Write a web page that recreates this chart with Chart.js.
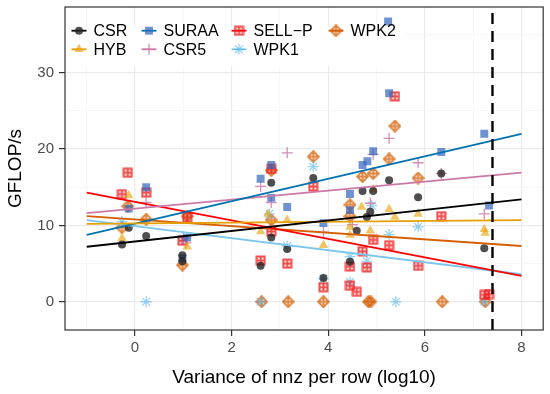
<!DOCTYPE html>
<html>
<head>
<meta charset="utf-8">
<script src="https://cdn.jsdelivr.net/npm/chart.js@4.4.1/dist/chart.umd.min.js"></script>
<style>
  html, body { margin: 0; padding: 0; background: #fff; }
</style>
</head>
<body>
<canvas id="chart" width="550" height="394"></canvas>
<script>
// x = variance of nnz per row (log10), y = GFLOP/s
const csrX = [-0.27, -0.13, 0.23, 0.98, 0.98, 2.6, 2.82, 2.82, 3.15, 3.69, 3.9, 4.45, 4.59, 4.71, 4.8, 4.87, 4.93, 5.26, 5.86, 6.34, 7.23];
const csrY = [7.5, 9.7, 8.6, 6.1, 5.3, 4.7, 15.6, 8.4, 6.9, 16.2, 3.1, 5.25, 9.3, 14.5, 11.1, 11.8, 14.5, 15.9, 13.7, 16.8, 7.0];

const hybX = [-0.27, -0.13, 1.08, 2.6, 2.75, 3.15, 3.9, 4.45, 4.45, 4.69, 4.87, 4.93, 5.26, 5.38, 5.86, 7.23, 7.25];
const hybY = [8.3, 13.9, 7.2, 9.2, 11.5, 10.7, 7.4, 9.8, 8.75, 12.4, 9.3, 14.7, 12.1, 11.1, 11.5, 9.5, 9.0];

const suraaX = [-0.13, 0.23, 0.98, 1.08, 2.6, 2.82, 2.82, 3.15, 3.9, 4.45, 4.45, 4.71, 4.81, 4.93, 5.24, 5.26, 6.34, 7.23, 7.33];
const suraaY = [12.2, 15.0, 5.7, 8.4, 16.1, 17.9, 13.6, 12.4, 10.3, 14.1, 12.0, 17.9, 18.4, 19.7, 36.7, 27.3, 19.6, 22.0, 12.6];

const csr5X = [0.23, 1.05, 2.6, 2.82, 3.15, 3.9, 4.5, 4.87, 4.93, 5.26, 5.86, 6.34, 7.23];
const csr5Y = [13.0, 7.7, 15.1, 13.0, 19.5, 9.1, 10.1, 12.9, 19.3, 21.4, 18.2, 16.8, 11.5];

const sellpX = [-0.15, -0.27, 0.23, 0.98, 1.08, 2.6, 2.82, 2.82, 3.15, 3.69, 3.9, 4.45, 4.45, 4.59, 4.71, 4.8, 4.93, 5.26, 5.38, 5.86, 6.34, 7.23, 7.33];
const sellpY = [16.9, 14.1, 14.3, 8.0, 11.0, 5.4, 17.4, 9.2, 5.0, 15.1, 1.9, 4.6, 2.1, 1.3, 6.6, 4.5, 8.1, 7.4, 26.9, 4.7, 11.2, 0.9, 1.0];

const wpk1X = [-0.27, 0.23, 1.0, 2.6, 2.78, 3.15, 3.69, 3.9, 4.45, 4.45, 4.8, 4.9, 5.26, 5.4, 5.86, 7.23];
const wpk1Y = [10.5, 0.0, 8.3, 0.0, 11.5, 7.3, 17.7, 3.0, 5.9, 2.6, 5.3, 12.6, 8.8, 0.0, 9.8, 0.0];

const wpk2X = [-0.15, -0.27, 0.23, 1.08, 0.98, 2.62, 2.82, 2.82, 3.17, 3.69, 3.9, 4.45, 4.45, 4.71, 4.83, 4.88, 4.93, 5.26, 5.38, 5.86, 6.36, 7.25];
const wpk2Y = [12.5, 9.7, 10.8, 11.2, 4.8, 0, 17.2, 10.7, 0, 19.0, 0, 12.7, 11.2, 16.4, 0, 0, 16.8, 18.7, 23.0, 16.2, 0, 0];

// fitted trend lines, value at each end of fitX
const fitX = [-1, 8];
const fitCSR = [7.2, 13.4];
const fitHYB = [10.2, 10.7];
const fitSURAA = [8.75, 22.0];
const fitCSR5 = [11.6, 16.9];
const fitSELLP = [14.3, 3.4];
const fitWPK1 = [10.7, 3.6];
const fitWPK2 = [11.2, 7.3];

const thresholdX = 7.4;
const xRange = [-1.45, 8.45];
const yRange = [-3.7, 38.6];

// grid positions; labelled ones are the majors
const xGrid = [-1, 0, 1, 2, 3, 4, 5, 6, 7, 8];
const xLabels = [0, 2, 4, 6, 8];
const yGrid = [0, 5, 10, 15, 20, 25, 30, 35];
const yLabels = [0, 10, 20, 30];

// ggplot-like marker shapes that Chart.js doesn't have
const withAlpha = (draw, size, alpha) => {
    const a = document.createElement('canvas');
    a.width = size; a.height = size;
    draw(a.getContext('2d'));
    const b = document.createElement('canvas');
    b.width = size; b.height = size;
    const g = b.getContext('2d');
    g.globalAlpha = alpha;
    g.drawImage(a, 0, 0);
    return b;
};

const squarePlus = withAlpha(g => {
    g.strokeStyle = '#ee1c1c';
    g.lineWidth = 2;
    g.strokeRect(1.5, 1.5, 8, 8);
    g.beginPath();
    g.moveTo(5.5, 1.5); g.lineTo(5.5, 9.5);
    g.moveTo(1.5, 5.5); g.lineTo(9.5, 5.5);
    g.stroke();
}, 11, 0.8);

const diamondPlus = withAlpha(g => {
    g.strokeStyle = '#D55E00';
    g.lineWidth = 1.9;
    g.beginPath();
    g.moveTo(6.5, 1); g.lineTo(12, 6.5); g.lineTo(6.5, 12); g.lineTo(1, 6.5); g.closePath();
    g.moveTo(6.5, 1); g.lineTo(6.5, 12);
    g.moveTo(1, 6.5); g.lineTo(12, 6.5);
    g.stroke();
}, 13, 0.75);

const series = [
    { label: 'CSR', x: csrX, y: csrY, fit: fitCSR, line: '#000000', style: 'circle', radius: 4, fill: 'rgba(35,35,35,0.8)', stroke: 'rgba(35,35,35,0.8)', bw: 0 },
    { label: 'HYB', x: hybX, y: hybY, fit: fitHYB, line: '#E69F00', style: 'triangle', radius: 5.5, fill: 'rgba(230,159,0,0.6)', stroke: 'rgba(230,159,0,0.6)', bw: 0 },
    { label: 'SURAA', x: suraaX, y: suraaY, fit: fitSURAA, line: '#0072B2', style: 'rect', radius: 5.6, fill: 'rgba(50,100,190,0.7)', stroke: 'rgba(50,100,190,0.7)', bw: 0 },
    { label: 'CSR5', x: csr5X, y: csr5Y, fit: fitCSR5, line: '#CC79A7', style: 'cross', radius: 5.5, fill: 'rgba(204,121,167,0.85)', stroke: 'rgba(204,121,167,0.85)', bw: 1.3 },
    { label: 'SELL\u2212P', x: sellpX, y: sellpY, fit: fitSELLP, line: '#FF0000', style: squarePlus, radius: 5.5, fill: '#ee1c1c', stroke: '#ee1c1c', bw: 0 },
    { label: 'WPK1', x: wpk1X, y: wpk1Y, fit: fitWPK1, line: '#7cc6ee', style: 'star', radius: 5.5, fill: 'rgba(86,180,233,0.6)', stroke: 'rgba(86,180,233,0.6)', bw: 1.3 },
    { label: 'WPK2', x: wpk2X, y: wpk2Y, fit: fitWPK2, line: '#D55E00', style: diamondPlus, radius: 6.5, fill: '#D55E00', stroke: '#D55E00', bw: 0 }
];

const pointSets = series.map(s => ({
    type: 'scatter',
    label: s.label,
    data: s.x.map((x, i) => ({ x: x, y: s.y[i] })),
    pointStyle: s.style,
    pointRadius: s.radius,
    pointHoverRadius: s.radius,
    backgroundColor: s.fill,
    borderColor: s.stroke,
    borderWidth: s.bw,
    order: 3
}));

const fitSets = series.map(s => ({
    type: 'line',
    label: s.label + ' fit',
    data: fitX.map((x, i) => ({ x: x, y: s.fit[i] })),
    borderColor: s.line,
    borderWidth: 1.8,
    pointRadius: 0,
    fill: false,
    order: 2
}));

const thresholdSet = {
    type: 'line',
    label: 'threshold',
    data: [{ x: thresholdX, y: yRange[0] }, { x: thresholdX, y: yRange[1] }],
    borderColor: '#000',
    borderWidth: 2.4,
    borderDash: [11, 7],
    pointRadius: 0,
    fill: false,
    order: 1
};

const FONT = '"Liberation Sans", Arial, sans-serif';

// ggplot style legend inside the panel, laid out in columns of two
const legendLayout = [[0, 1], [2, 3], [4, 5], [6]];
const legendCols = [14, 84, 174, 271];

const panelLegend = {
    id: 'panelLegend',
    afterDatasetsDraw(chart) {
        const ctx = chart.ctx;
        const area = chart.chartArea;
        ctx.save();
        ctx.fillStyle = '#fff';
        ctx.fillRect(area.left + 3, area.top + 20, 335, 39);
        legendLayout.forEach((col, c) => {
            col.forEach((idx, r) => {
                const s = series[idx];
                const cx = area.left + legendCols[c];
                const cy = area.top + 23.7 + r * 18.6;
                ctx.strokeStyle = s.line;
                ctx.lineWidth = 1.8;
                ctx.beginPath();
                ctx.moveTo(cx - 7.5, cy);
                ctx.lineTo(cx + 7.5, cy);
                ctx.stroke();
                ctx.fillStyle = s.fill;
                ctx.strokeStyle = s.stroke;
                ctx.lineWidth = s.bw;
                Chart.helpers.drawPoint(ctx, { pointStyle: s.style, radius: s.radius, borderWidth: s.bw, rotation: 0 }, cx, cy);
                ctx.fillStyle = '#000';
                ctx.font = '16px ' + FONT;
                ctx.textBaseline = 'middle';
                ctx.textAlign = 'left';
                ctx.fillText(s.label, cx + 14.5, cy + 1);
            });
        });
        ctx.restore();
    },
    afterDraw(chart) {
        const ctx = chart.ctx;
        const a = chart.chartArea;
        ctx.save();
        ctx.strokeStyle = '#333';
        ctx.lineWidth = 1.2;
        ctx.strokeRect(a.left, a.top, a.right - a.left, a.bottom - a.top);
        ctx.restore();
    }
};

const gridStyle = labels => ({
    color: c => labels.includes(c.tick.value) ? '#ebebeb' : '#f3f3f3',
    lineWidth: c => labels.includes(c.tick.value) ? 1.2 : 0.7,
    tickColor: c => labels.includes(c.tick.value) ? '#333' : 'rgba(0,0,0,0)',
    tickLength: 6,
    tickWidth: 1.2
});

new Chart(document.getElementById('chart'), {
    data: { datasets: [thresholdSet, ...fitSets, ...pointSets] },
    options: {
        responsive: false,
        animation: false,
        devicePixelRatio: 1,
        layout: { padding: { top: 7, right: 5, left: 0, bottom: 0 } },
        plugins: {
            legend: { display: false },
            tooltip: { enabled: false }
        },
        scales: {
            x: {
                type: 'linear',
                min: xRange[0],
                max: xRange[1],
                afterBuildTicks: s => { s.ticks = xGrid.map(v => ({ value: v })); },
                afterFit: s => { s.height = 64; s.paddingLeft = 0; s.paddingRight = 0; },
                ticks: {
                    autoSkip: false,
                    maxRotation: 0,
                    padding: 3,
                    color: '#4d4d4d',
                    font: { family: FONT, size: 15 },
                    callback: v => xLabels.includes(v) ? String(v) : ''
                },
                grid: gridStyle(xLabels),
                border: { display: false },
                title: {
                    display: true,
                    text: 'Variance of nnz per row (log10)',
                    color: '#000',
                    font: { family: FONT, size: 19 },
                    padding: { top: 0, bottom: 5 }
                }
            },
            y: {
                type: 'linear',
                min: yRange[0],
                max: yRange[1],
                afterBuildTicks: s => { s.ticks = yGrid.map(v => ({ value: v })); },
                afterFit: s => { s.width = 65; s.paddingTop = 0; s.paddingBottom = 0; },
                ticks: {
                    autoSkip: false,
                    padding: 5,
                    color: '#4d4d4d',
                    font: { family: FONT, size: 15 },
                    callback: v => yLabels.includes(v) ? String(v) : ''
                },
                grid: gridStyle(yLabels),
                border: { display: false },
                title: {
                    display: true,
                    text: 'GFLOP/s',
                    color: '#000',
                    font: { family: FONT, size: 19 },
                    padding: { top: 4, bottom: 0 }
                }
            }
        }
    },
    plugins: [panelLegend]
});
</script>
</body>
</html>
